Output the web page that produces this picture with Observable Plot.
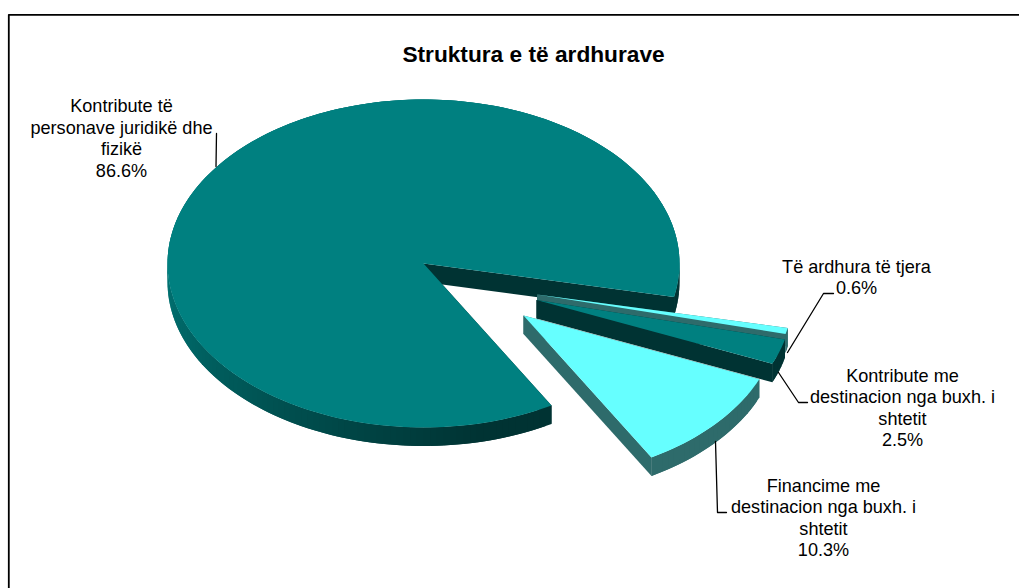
<!DOCTYPE html>
<html>
<head>
<meta charset="utf-8">
<script src="https://cdn.jsdelivr.net/npm/d3@7"></script>
<script src="https://cdn.jsdelivr.net/npm/@observablehq/plot@0.6"></script>
<style>html,body{margin:0;padding:0;background:#fff;overflow:hidden}svg{display:block}</style>
</head>
<body>
<script>
// Data, in clockwise drawing order
const names = ["Kontribute të\npersonave juridikë dhe\nfizikë", "Të ardhura të tjera", "Kontribute me\ndestinacion nga buxh. i\nshtetit", "Financime me\ndestinacion nga buxh. i\nshtetit"];
const shares = [86.6, 0.6, 2.5, 10.3];
const title = "Struktura e të ardhurave";

// Layout
const W = 1019, H = 588;
const RX = 256, RY = 164, DEPTH = 18.5, START = 60;
const apexes = [[423, 263], [536.6, 294], [536, 299.5], [523, 315]];
const topColors = ["#008080", "#66ffff", "#008080", "#66ffff"];
const labelAnchors = [[121, 137], [856, 276], [902, 406.5], [823, 516.5]];
const leaders = [
  [[216, 133], [215.5, 166]],
  [[833, 293], [823, 293], [787, 352]],
  [[778, 372], [798, 402], [807, 402]],
  [[715, 441], [717, 512], [726, 512]]
];
const frame = [[1019, 14.3], [8.3, 14.3], [8.3, 588]];

// Slice angles derived from the shares
let acc = START;
const slices = shares.map((v, i) => {
  const a0 = acc, a1 = acc + v * 3.6;
  acc = a1;
  return {i, a0, a1, c: apexes[i], fill: topColors[i]};
});
const pt = (c, a, dz = 0) => {
  const r = a * Math.PI / 180;
  return [c[0] + RX * Math.cos(r), c[1] + RY * Math.sin(r) + dz];
};
const wallColor = (s, a) => {
  if (s.fill === "#66ffff") return "#2e6b6b";
  if (s.i !== 0) return "#003333";
  const n = ((a % 360) + 360) % 360;
  if (n < 60) return "#003333";
  return d3.interpolateRgb("#003333", "#007474")(Math.min(1, Math.max(0, (n - 75) / 105)));
};

const polys = [];
let pid = 0;
const add = (pts, fill) => {
  const id = pid++;
  pts.forEach(p => polys.push({id, x: p[0], y: p[1], fill}));
};
const drawSlice = s => {
  const steps = Math.max(4, Math.ceil((s.a1 - s.a0) / 1.5));
  const as = d3.range(steps + 1).map(k => s.a0 + (s.a1 - s.a0) * k / steps);
  // flat cut faces
  const cutColor = s.i === 0 ? "#003333" : wallColor(s, s.a0);
  add([s.c, pt(s.c, s.a0), pt(s.c, s.a0, DEPTH), [s.c[0], s.c[1] + DEPTH]], cutColor);
  add([s.c, pt(s.c, s.a1), pt(s.c, s.a1, DEPTH), [s.c[0], s.c[1] + DEPTH]], cutColor);
  // rim: each piece overlaps the next so no seams show
  for (let k = steps - 1; k >= 0; k--) {
    const e = as[Math.min(k + 2, steps)];
    add([pt(s.c, as[k]), pt(s.c, e), pt(s.c, e, DEPTH), pt(s.c, as[k], DEPTH)], wallColor(s, (as[k] + as[k + 1]) / 2));
  }
  // top face
  add([s.c, ...as.map(a => pt(s.c, a))], s.fill);
};
// paint order: back to front
[slices[0], slices[1], slices[3], slices[2]].forEach(drawSlice);

const leaderRows = leaders.flatMap((l, id) => l.map(p => ({id, x: p[0], y: p[1]})));
const labelRows = names.map((n, i) => ({text: `${n}\n${shares[i].toFixed(1)}%`, x: labelAnchors[i][0], y: labelAnchors[i][1]}));
const frameRows = frame.map(p => ({x: p[0], y: p[1]}));

const chart = Plot.plot({
  width: W, height: H, margin: 0,
  style: {fontFamily: '"Liberation Sans", Arial, sans-serif', background: "#fff"},
  x: {domain: [0, W], range: [0, W], axis: null},
  y: {domain: [0, H], range: [0, H], axis: null},
  color: {type: "identity"},
  marks: [
    Plot.line(frameRows, {x: "x", y: "y", stroke: "#000", strokeWidth: 1.8}),
    Plot.line(polys, {x: "x", y: "y", z: "id", fill: "fill", stroke: "none"}),
    Plot.line(leaderRows, {x: "x", y: "y", z: "id", stroke: "#000", strokeWidth: 1.3}),
    Plot.text(labelRows, {x: "x", y: "y", text: "text", fontSize: 18.1, lineHeight: 1.185, fill: "#000", textAnchor: "middle", lineAnchor: "middle"}),
    Plot.text([title], {x: () => 533, y: () => 54, text: d => d, fontSize: 22.7, fontWeight: "bold", fill: "#000", textAnchor: "middle"})
  ]
});
document.body.appendChild(chart);
</script>
</body>
</html>
